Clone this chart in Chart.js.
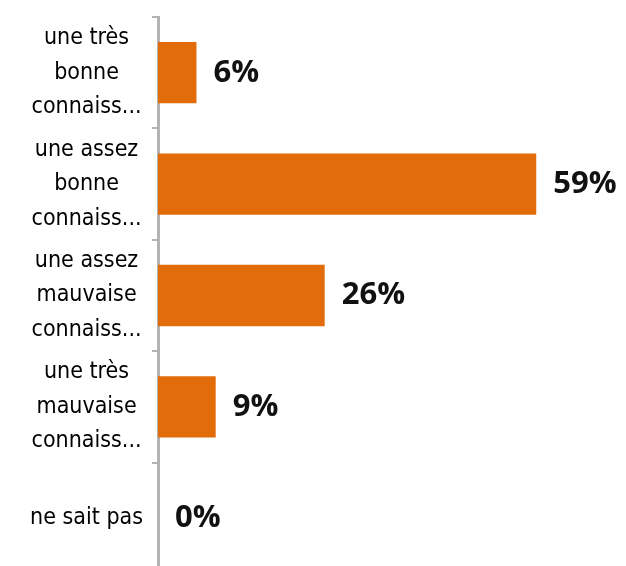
<!DOCTYPE html>
<html>
<head>
<meta charset="utf-8">
<script src="https://cdn.jsdelivr.net/npm/chart.js@4.4.1/dist/chart.umd.min.js"></script>
<style>
  html, body { margin: 0; padding: 0; background: #ffffff; overflow: hidden; }
  #wrap { width: 626px; height: 566px; overflow: hidden; }
</style>
</head>
<body>
<div id="wrap"><canvas id="chart" width="626" height="580"></canvas></div>
<script>
// Categories (multi-line labels as shown on the axis)
const categories = [
  ['une très', 'bonne', 'connaiss...'],
  ['une assez', 'bonne', 'connaiss...'],
  ['une assez', 'mauvaise', 'connaiss...'],
  ['une très', 'mauvaise', 'connaiss...'],
  ['ne sait pas']
];
// Share of respondents, in percent
const values = [6, 59, 26, 9, 0];

const barColor = '#E36C0A';
const axisGrey = '#b3b3b3';

// Writes each bar's value at the end of the bar
const valueLabels = {
  id: 'valueLabels',
  afterDatasetsDraw(chart) {
    const ctx = chart.ctx;
    const meta = chart.getDatasetMeta(0);
    ctx.save();
    ctx.font = 'bold 31px "Open Sans", sans-serif';
    ctx.fillStyle = '#111111';
    ctx.textAlign = 'left';
    ctx.textBaseline = 'middle';
    meta.data.forEach((bar, i) => {
      ctx.fillText(values[i] + '%', bar.x + 17, bar.y);
    });
    ctx.restore();
  }
};

new Chart(document.getElementById('chart'), {
  type: 'bar',
  data: {
    labels: categories,
    datasets: [{
      data: values,
      backgroundColor: barColor,
      borderWidth: 0,
      categoryPercentage: 1.0,
      barPercentage: 0.55
    }]
  },
  options: {
    indexAxis: 'y',
    responsive: false,
    animation: false,
    layout: { padding: { top: 17, bottom: 6, left: 0, right: 0 } },
    plugins: {
      legend: { display: false },
      tooltip: { enabled: false }
    },
    scales: {
      x: {
        display: false,
        min: 0,
        max: 73
      },
      y: {
        afterFit(scale) {
          scale.width = 158;
          scale.paddingTop = 0;
          scale.paddingBottom = 0;
        },
        grid: {
          offset: true,
          drawOnChartArea: false,
          drawTicks: true,
          tickLength: 6,
          color: axisGrey,
          lineWidth: 2
        },
        border: { color: axisGrey, width: 3 },
        ticks: {
          crossAlign: 'center',
          padding: 9,
          color: '#000000',
          font: { family: '"DejaVu Sans Condensed", "Liberation Sans Narrow", sans-serif', size: 23, lineHeight: 1.5 }
        }
      }
    }
  },
  plugins: [valueLabels]
});
</script>
</body>
</html>
